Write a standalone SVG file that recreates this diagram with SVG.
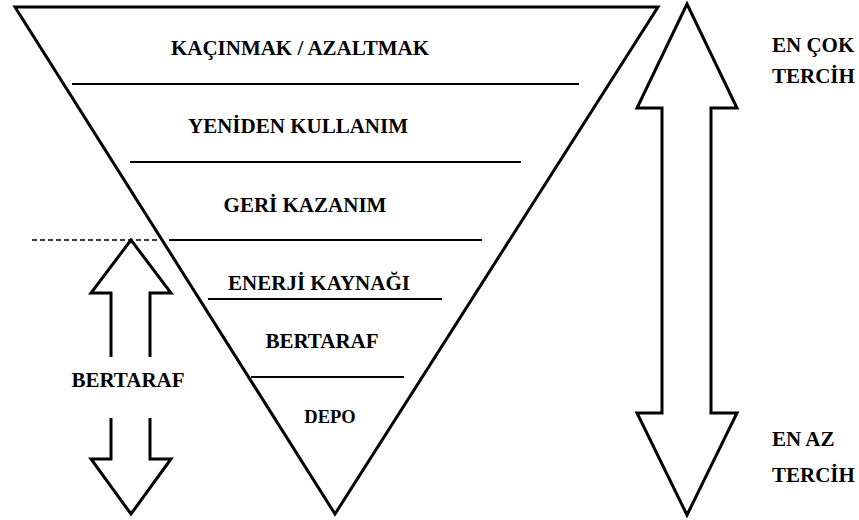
<svg xmlns="http://www.w3.org/2000/svg" width="859" height="520" viewBox="0 0 859 520">
<style>
.m{text-anchor:middle}
.thick{fill:none;stroke:#000;stroke-width:3;stroke-linejoin:miter}
.div{stroke:#000;stroke-width:2;fill:none}
</style>
<rect width="859" height="520" fill="#fff"/>
<g id="pyramid">
<polygon class="thick" points="15,7 658,7 335,514"/>
</g>
<g id="connectors">
<line class="div" x1="72" y1="84" x2="579" y2="84"/>
<line class="div" x1="130" y1="162" x2="521" y2="162"/>
<line class="div" x1="169" y1="240" x2="482" y2="240"/>
<line class="div" x1="208" y1="299" x2="442" y2="299"/>
<line class="div" x1="251" y1="377" x2="404" y2="377"/>
<line stroke="#000" stroke-width="1.5" stroke-dasharray="5,3" x1="32" y1="240" x2="160" y2="240"/>
</g>
<g font-weight="bold" font-size="21" fill="#000">
<g id="level-kacinmak"><text style="font-family:'Liberation Serif',serif" class="m" x="300" y="55">KAÇINMAK / AZALTMAK</text></g>
<g id="level-yeniden"><text style="font-family:'Liberation Serif',serif" class="m" x="298" y="133">YENİDEN KULLANIM</text></g>
<g id="level-geri"><text style="font-family:'Liberation Serif',serif" class="m" x="305" y="212">GERİ KAZANIM</text></g>
<g id="level-enerji"><text style="font-family:'Liberation Serif',serif" class="m" x="319" y="290">ENERJİ KAYNAĞI</text></g>
<g id="level-bertaraf"><text style="font-family:'Liberation Serif',serif" class="m" x="322" y="348">BERTARAF</text></g>
<g id="level-depo"><text style="font-family:'Liberation Serif',serif" class="m" x="330" y="423" font-size="18.5">DEPO</text></g>
<g id="label-most"><text style="font-family:'Liberation Serif',serif" x="772" y="52">EN ÇOK</text><text style="font-family:'Liberation Serif',serif" x="772" y="83">TERCİH</text></g>
<g id="label-least"><text style="font-family:'Liberation Serif',serif" x="772" y="446">EN AZ</text><text style="font-family:'Liberation Serif',serif" x="772" y="482">TERCİH</text></g>
<g id="label-bertaraf"><text style="font-family:'Liberation Serif',serif" class="m" x="128" y="387">BERTARAF</text></g>
</g>
<g id="preference-arrow">
<polygon class="thick" points="687,4 737,108 711,108 711,413 737,413 687,515 637,413 662,413 662,108 637,108"/>
</g>
<g id="bertaraf-arrow">
<polyline class="thick" points="111,357 111,293 91,293 131,240 171,293 150,293 150,357"/>
<polyline class="thick" points="111,418 111,459 91,459 131,514 171,459 150,459 150,418"/>
</g>
</svg>
